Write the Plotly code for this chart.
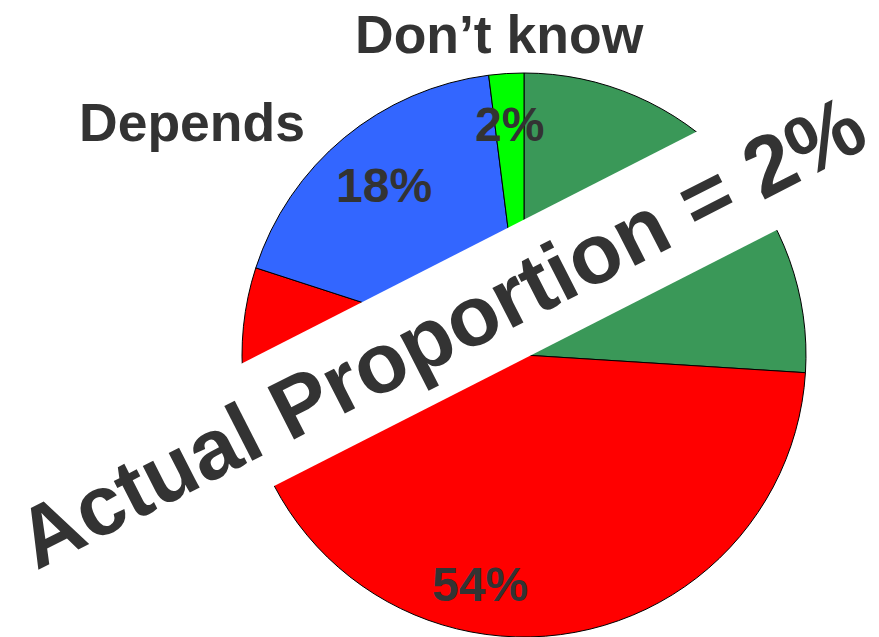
import math
import plotly.graph_objects as go

# ---- data ----
categories = ["Yes", "No", "Depends", "Don’t know"]
values = [26, 54, 18, 2]
slice_colors = ["#3A9858", "#FF0000", "#3366FF", "#00FF00"]
outside_names = ["Depends", "Don’t know"]
banner_text = "Actual Proportion = 2%"

# ---- layout constants ----
W, H = 879, 637
TEXT = "#333333"
FONT = "Liberation Sans, Arial, Helvetica, sans-serif"
label_radius = [0.81, 0.83, 0.78, 0.82]   # per-slice label distance (fraction of r)

# desired pie centre / radius in pixels
PIE_CX, PIE_CY, PIE_R = 524, 355, 283
dom_x = [(PIE_CX - PIE_R) / W, (PIE_CX + PIE_R) / W]
dom_y = [0.0, 2 * (H - PIE_CY) / H]

# geometry as plotly computes it for the pie domain
cx = W * (dom_x[0] + dom_x[1]) / 2
cy = H * (1 - dom_y[0]) - H * (dom_y[1] - dom_y[0]) / 2
r = min(W * (dom_x[1] - dom_x[0]), H * (dom_y[1] - dom_y[0])) / 2


def to_paper(sx, sy):
    """pixel (from top-left) -> paper coordinates"""
    return sx / W, 1 - sy / H


fig = go.Figure(
    go.Pie(
        labels=categories,
        values=values,
        sort=False,
        direction="clockwise",
        rotation=0,
        marker=dict(colors=slice_colors, line=dict(color="black", width=1)),
        textinfo="none",
        hoverinfo="label+percent",
        showlegend=False,
        domain=dict(x=dom_x, y=dom_y),
    )
)

annotations = []
total = sum(values)
start = 0.0
for v, lr in zip(values, label_radius):
    mid = (start + v / 2) / total * 2 * math.pi
    px = cx + lr * r * math.sin(mid)
    py = cy - lr * r * math.cos(mid)
    x, y = to_paper(px, py)
    annotations.append(dict(
        x=x, y=y, xref="paper", yref="paper",
        text=f"{round(v / total * 100)}%", showarrow=False,
        xanchor="center", yanchor="middle",
        font=dict(family=FONT, size=48, color=TEXT, weight="bold"),
    ))
    start += v

name_pos = {"Depends": (192, 122), "Don’t know": (499, 34)}
for nm in outside_names:
    x, y = to_paper(*name_pos[nm])
    annotations.append(dict(
        x=x, y=y, xref="paper", yref="paper",
        text=nm, showarrow=False, xanchor="center", yanchor="middle",
        font=dict(family=FONT, size=53.5, color=TEXT, weight="bold"),
    ))

bx, by = to_paper(441, 331.5)
annotations.append(dict(
    x=bx, y=by, xref="paper", yref="paper",
    text=banner_text, showarrow=False, xanchor="center", yanchor="middle",
    textangle=-27, bgcolor="white", borderpad=14,
    font=dict(family=FONT, size=85, color=TEXT, weight="bold"),
))

fig.update_layout(
    width=W, height=H,
    margin=dict(l=0, r=0, t=0, b=0),
    paper_bgcolor="white", plot_bgcolor="white",
    annotations=annotations,
)

fig.write_html(
    "out.html",
    config={"displayModeBar": False},
    post_script="document.body.style.margin='0';document.body.style.overflow='hidden';",
)
